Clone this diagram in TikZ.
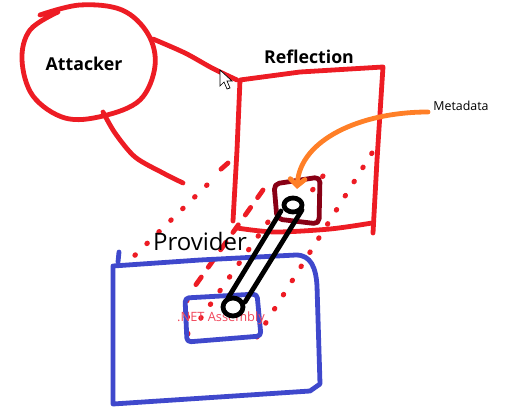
\documentclass[tikz,border=0pt]{standalone}
\usepackage{fontspec}
\setmainfont{Open Sans}
\usetikzlibrary{arrows.meta}
\definecolor{inkred}{RGB}{237,28,36}
\definecolor{inkblue}{RGB}{63,72,204}
\definecolor{inkmaroon}{RGB}{136,0,21}
\definecolor{inkorange}{RGB}{255,127,39}
\definecolor{labelred}{RGB}{240,70,90}
\begin{document}
\begin{tikzpicture}[x=0.75pt,y=-0.75pt,
    pen/.style={line width=3.6pt,line cap=round,line join=round},
    dotline/.style={inkred,line width=3.8pt,line cap=round,dash pattern=on 0.5pt off 12pt},
    dashline/.style={inkred,line width=3.6pt,line cap=round,dash pattern=on 7pt off 9pt},
    title/.style={font=\fontsize{13.3}{15}\selectfont\bfseries,inner sep=0pt}]
    \useasboundingbox (0,0) rectangle (509,420);

    % attacker
    \draw[pen,inkred] plot[smooth,tension=0.6] coordinates {(40,15) (80,5) (122,10) (148,34) (155,66) (140,100) (103,116) (65,118) (33,96) (22,60) (30,30) (58,12)};
    \node[title] (attacker) at (84,64) {Attacker};
    \draw[pen,inkred] plot[smooth] coordinates {(153,39) (185,53) (212,68) (237,80)};
    \draw[pen,inkred] plot[smooth] coordinates {(103,112) (115,133) (135,157) (163,173) (183,183)};

    % reflection box
    \node[title] (reflection) at (309,57) {Reflection};
    \draw[pen,inkred] (233,221) -- (237,150) -- (240,80) -- (300,72) -- (383,67) -- (382,82) -- (377,160) -- (373,233);
    \draw[pen,inkred] plot[smooth] coordinates {(237,228) (275,232) (330,229) (372,223)};

    % mouse pointer
    \draw[black,fill=white,line width=0.5pt,line join=miter]
        (220,70) -- (220,86) -- (224,82) -- (227,89) -- (230,88) -- (227,81) -- (232,81) -- cycle;

    % dotted links
    \draw[dashline] (228,163) -- (212,177);
    \draw[dotline] (207,185) -- (128,262);
    \draw[dashline] (263,190) -- (190,293);
    \draw[dotline] (268,222) -- (196,325);
    \draw[dotline] (372,153) -- (257,337);
    \draw[dotline] (323,176) -- (305,200);
    \draw[dotline] (187,300) -- (188,340);

    % metadata
    \draw[pen,inkmaroon,rounded corners=4pt] (274,184) -- (320,177) -- (319,224) -- (277,219) -- cycle;
    \node[font=\fontsize{9.3}{11}\selectfont,inner sep=1pt] (metadata) at (461,106) {Metadata};
    \draw[pen,inkorange,-{Straight Barb[length=5pt,width=11pt,line cap=round]}]
        (428,112) .. controls (360,112) and (300,140) .. (297,189);

    % provider
    \node[font=\fontsize{18}{20}\selectfont,inner sep=0pt] (provider) at (200,241) {Provider};
    \draw[pen,inkblue] (119,252) -- (118,262);
    \draw[pen,inkblue] (113,266) -- (200,260) -- (296,255) .. controls (311,255) and (316,268) .. (317,286) -- (320,384) -- (310,391) -- (113,404) -- cycle;
    \draw[pen,inkblue,rounded corners=3pt] (185,298) -- (257,294) -- (261,336) -- (187,342) -- cycle;
    \node[font=\fontsize{9.6}{11}\selectfont,text=labelred,inner sep=0pt] (assembly) at (221,318) {.NET Assembly};

    % link
    \draw[pen,black] (293,205) ellipse (9 and 7);
    \draw[pen,black] (233,307) ellipse (10 and 9);
    \draw[pen,black] (281,211) -- (228,298);
    \draw[pen,black] (302,210) -- (245,302);
\end{tikzpicture}
\end{document}
